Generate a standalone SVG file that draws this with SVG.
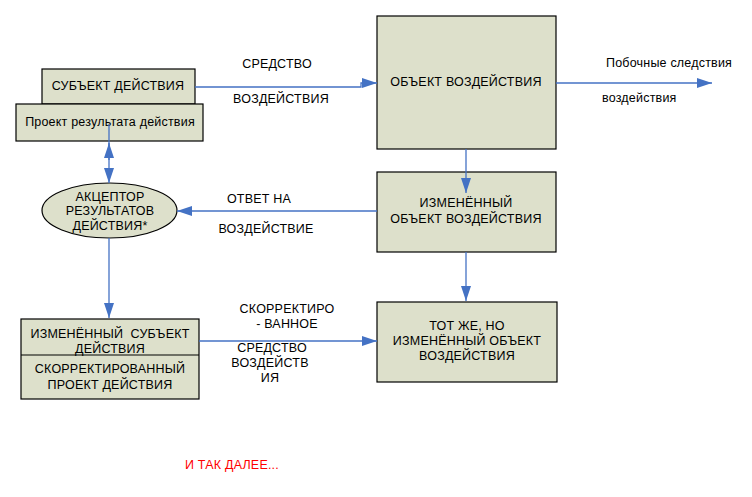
<svg xmlns="http://www.w3.org/2000/svg" width="752" height="497" viewBox="0 0 752 497">
<style>
.box{fill:#DDE0CB;stroke:#000;stroke-width:1.2}
.t{font-family:"Liberation Sans",Arial,sans-serif;font-size:12.5px;letter-spacing:0.2px;fill:#000;text-anchor:middle}
.l{font-family:"Liberation Sans",Arial,sans-serif;font-size:12.5px;letter-spacing:0.2px;fill:#000}
.c{fill:none;stroke:#4472C4;stroke-width:1.3;marker-end:url(#ah)}
</style>
<defs>
<marker id="ah" viewBox="0 0 15 10" refX="15" refY="5" markerWidth="15" markerHeight="10" markerUnits="userSpaceOnUse" orient="auto">
<path d="M0,0 L15,5 L0,10 z" fill="#4472C4"/>
</marker>
</defs>
<rect width="752" height="497" fill="#fff"/>
<g id="subject">
<rect class="box" x="42" y="69" width="153" height="35"/>
<text class="t" x="118" y="90">СУБЪЕКТ ДЕЙСТВИЯ</text>
</g>
<g id="project">
<rect class="box" x="16" y="104" width="187" height="37"/>
<text class="t" x="110" y="126">Проект результата действия</text>
</g>
<g id="object">
<rect class="box" x="377" y="16" width="179" height="133"/>
<text class="t" x="466" y="86">ОБЪЕКТ ВОЗДЕЙСТВИЯ</text>
</g>
<g id="changed-object">
<rect class="box" x="377" y="172" width="179" height="80"/>
<text class="t" x="466" y="207">ИЗМЕНЁННЫЙ</text>
<text class="t" x="466" y="223">ОБЪЕКТ ВОЗДЕЙСТВИЯ</text>
</g>
<g id="same-object">
<rect class="box" x="377" y="302" width="180" height="80"/>
<text class="t" x="467" y="330">ТОТ ЖЕ, НО</text>
<text class="t" x="467" y="345">ИЗМЕНЁННЫЙ ОБЪЕКТ</text>
<text class="t" x="467" y="360">ВОЗДЕЙСТВИЯ</text>
</g>
<g id="acceptor">
<ellipse class="box" cx="109.5" cy="210.5" rx="67.5" ry="27.5"/>
<text class="t" x="110" y="201">АКЦЕПТОР</text>
<text class="t" x="110" y="215">РЕЗУЛЬТАТОВ</text>
<text class="t" x="110" y="230">ДЕЙСТВИЯ*</text>
</g>
<g id="changed-subject">
<rect class="box" x="21" y="319" width="178" height="80"/>
<line x1="21" y1="355" x2="199" y2="355" stroke="#000" stroke-width="1.2"/>
<text class="t" x="110" y="338" xml:space="preserve">ИЗМЕНЁННЫЙ  СУБЪЕКТ</text>
<text class="t" x="110" y="353">ДЕЙСТВИЯ</text>
<text class="t" x="110" y="373">СКОРРЕКТИРОВАННЫЙ</text>
<text class="t" x="110" y="389">ПРОЕКТ ДЕЙСТВИЯ</text>
</g>
<g id="connectors">
<path class="c" d="M195,87 H361 V83 H377"/>
<path class="c" d="M556,83 H712"/>
<path class="c" d="M466,149 V193"/>
<path class="c" d="M377,211 H177"/>
<path class="c" d="M109,124 V183"/>
<path class="c" d="M109,160 V143"/>
<path class="c" d="M109,238 V318"/>
<path class="c" d="M466,252 V301"/>
<path class="c" d="M199,341 H377"/>
</g>
<g id="labels">
<text class="t" x="277" y="68">СРЕДСТВО</text>
<text class="t" x="281" y="103">ВОЗДЕЙСТВИЯ</text>
<text class="t" x="259" y="203">ОТВЕТ НА</text>
<text class="t" x="266" y="233">ВОЗДЕЙСТВИЕ</text>
<text class="l" x="606" y="67">Побочные следствия</text>
<text class="l" x="602" y="102">воздействия</text>
<text class="t" x="287" y="313">СКОРРЕКТИРО</text>
<text class="t" x="287" y="328">- ВАННОЕ</text>
<text class="t" x="272" y="352">СРЕДСТВО</text>
<text class="t" x="270" y="367">ВОЗДЕЙСТВ</text>
<text class="t" x="270" y="382">ИЯ</text>
<text class="l" x="185" y="469" style="fill:#FF0000">И ТАК ДАЛЕЕ...</text>
</g>
</svg>
